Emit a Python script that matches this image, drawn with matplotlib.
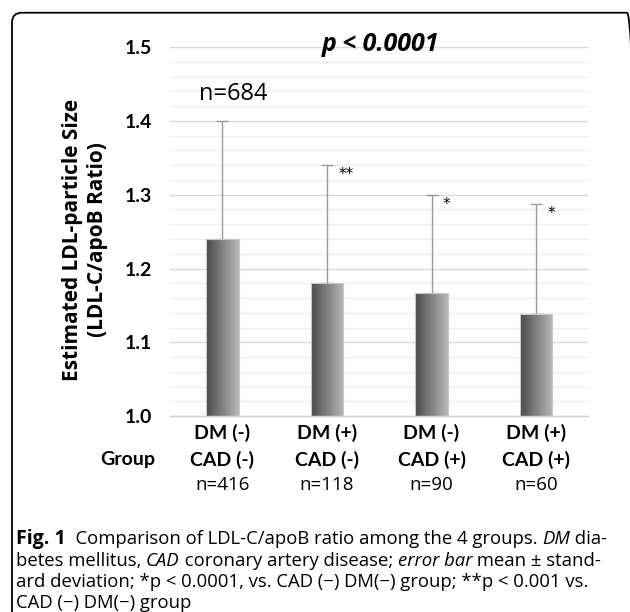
import numpy as np
import matplotlib
matplotlib.use("Agg")
import matplotlib.pyplot as plt
from matplotlib.patches import FancyBboxPatch
from matplotlib.colors import LinearSegmentedColormap

# ---- data ----
groups_dm = ["DM (-)", "DM (+)", "DM (-)", "DM (+)"]
groups_cad = ["CAD (-)", "CAD (-)", "CAD (+)", "CAD (+)"]
group_n = ["n=416", "n=118", "n=90", "n=60"]
means = [1.24, 1.18, 1.167, 1.138]
sd_upper = [0.16, 0.16, 0.133, 0.149]
sig_marks = ["", "**", "*", "*"]
yticks = [1.0, 1.1, 1.2, 1.3, 1.4, 1.5]

FONT = "Lato"
plt.rcParams['font.family'] = [FONT, 'DejaVu Sans']

fig = plt.figure(figsize=(6.3, 6.12), dpi=100)
ax = fig.add_axes([0.270, 0.320, 0.664, 0.603])

x = np.arange(len(means))
width = 0.31
bars = ax.bar(x, [m - 1.0 for m in means], bottom=1.0, width=width,
              color="none", edgecolor="#c8c8c8", linewidth=0.8, zorder=3)

# gradient fill for each bar
grad = np.linspace(0, 1, 256).reshape(1, -1)
cmap = LinearSegmentedColormap.from_list("g", ["#4a4a4a", "#b8b8b8"])
for b in bars:
    x0, y0 = b.get_x(), b.get_y()
    w, h = b.get_width(), b.get_height()
    im = ax.imshow(grad, extent=[x0, x0 + w, y0, y0 + h], aspect="auto",
                   cmap=cmap, zorder=2.5, origin="lower")
    im.set_clip_path(b)

# error bars (upper only)
ax.errorbar(x, means, yerr=[np.zeros(len(means)), sd_upper], fmt="none",
            ecolor="#9a9a9a", elinewidth=1.0, capsize=4.5, capthick=1.0, zorder=2)

ax.set_xlim(-0.5, len(means) - 0.5)
ax.set_ylim(1.0, 1.5)
ax.set_yticks(yticks)
ax.set_yticklabels([f"{t:.1f}" for t in yticks], fontsize=14, fontweight="bold")
ax.set_yticks(np.arange(1.0, 1.5001, 0.02), minor=True)
ax.yaxis.grid(True, which="major", color="#d9d9d9", linewidth=1.0, zorder=0)
ax.yaxis.grid(True, which="minor", color="#eeeeee", linewidth=0.9, zorder=0)
ax.set_axisbelow(True)
ax.tick_params(axis="y", which="both", length=0, pad=13)
ax.tick_params(axis="x", length=0)
ax.set_xticks([])
for s in ["top", "right", "left"]:
    ax.spines[s].set_visible(False)
ax.spines["bottom"].set_color("#d0d0d0")
ax.spines["bottom"].set_linewidth(1.0)

# y axis title
fig.text(85 / 630, 1 - 240 / 612, "Estimated LDL-particle Size\n(LDL-C/apoB Ratio)",
         rotation=90, ha="center", va="center", fontsize=15, fontweight="bold",
         family="Open Sans", linespacing=1.2)

# significance marks
for xi, m, e, s in zip(x, means, sd_upper, sig_marks):
    if s:
        ax.text(xi + 0.11, m + e - 0.013, s, ha="left", va="center",
                fontsize=11, family="DejaVu Sans")

# annotations
ax.text(1.515, 1.503, "p < 0.0001", ha="center", va="center", fontsize=18,
        fontweight="bold", fontstyle="italic", family="Open Sans")
ax.text(0.1, 1.436, "n=684", ha="center", va="center", fontsize=17, family="Open Sans")

# category labels below
trans = ax.get_xaxis_transform()
for xi, dm, cad, n in zip(x, groups_dm, groups_cad, group_n):
    ax.text(xi, -0.045, dm, transform=trans, ha="center", va="center",
            fontsize=14, fontweight="bold")
    ax.text(xi, -0.118, cad, transform=trans, ha="center", va="center",
            fontsize=14, fontweight="bold")
    ax.text(xi, -0.186, n, transform=trans, ha="center", va="center",
            fontsize=13.5, family="Open Sans")
fig.text(155 / 630, 1 - 459 / 612, "Group", ha="right", va="center",
         fontsize=14, fontweight="bold")

# border
border = FancyBboxPatch((12 / 630, -0.05), (637 - 12) / 630, 1 - 12.7 / 612 + 0.05,
                        boxstyle="round,pad=0,rounding_size=0.016",
                        transform=fig.transFigure, fill=False, edgecolor="black",
                        linewidth=1.3)
fig.patches.append(border)

# caption
cap_font = "Open Sans"
cap_size = 13.3
lines = [
    [("Fig. 1", "bold", "normal"), ("  Comparison of LDL-C/apoB ratio among the 4 groups. ", "normal", "normal"),
     ("DM", "normal", "italic"), (" dia-", "normal", "normal")],
    [("betes mellitus, ", "normal", "normal"), ("CAD", "normal", "italic"),
     (" coronary artery disease; ", "normal", "normal"), ("error bar", "normal", "italic"),
     (" mean \u00b1 stand-", "normal", "normal")],
    [("ard deviation; *p < 0.0001, vs. CAD (\u2212) DM(\u2212) group; **p < 0.001 vs.", "normal", "normal")],
    [("CAD (\u2212) DM(\u2212) group", "normal", "normal")],
]
line_y = [539, 561, 582, 603]
for segs, ly in zip(lines, line_y):
    prev = None
    for txt, wt, st in segs:
        kw = dict(fontsize=cap_size, fontweight=wt, fontstyle=st,
                  family=[cap_font, "DejaVu Sans"], va="center", ha="left")
        if wt == "bold":
            kw["fontsize"] = cap_size + 0.7
        if prev is None:
            prev = fig.text(16 / 630, 1 - ly / 612, txt, **kw)
        else:
            prev = ax.annotate(txt, xy=(1, 0.5), xycoords=prev,
                               annotation_clip=False, **kw)

fig.savefig("out.png", dpi=100)
